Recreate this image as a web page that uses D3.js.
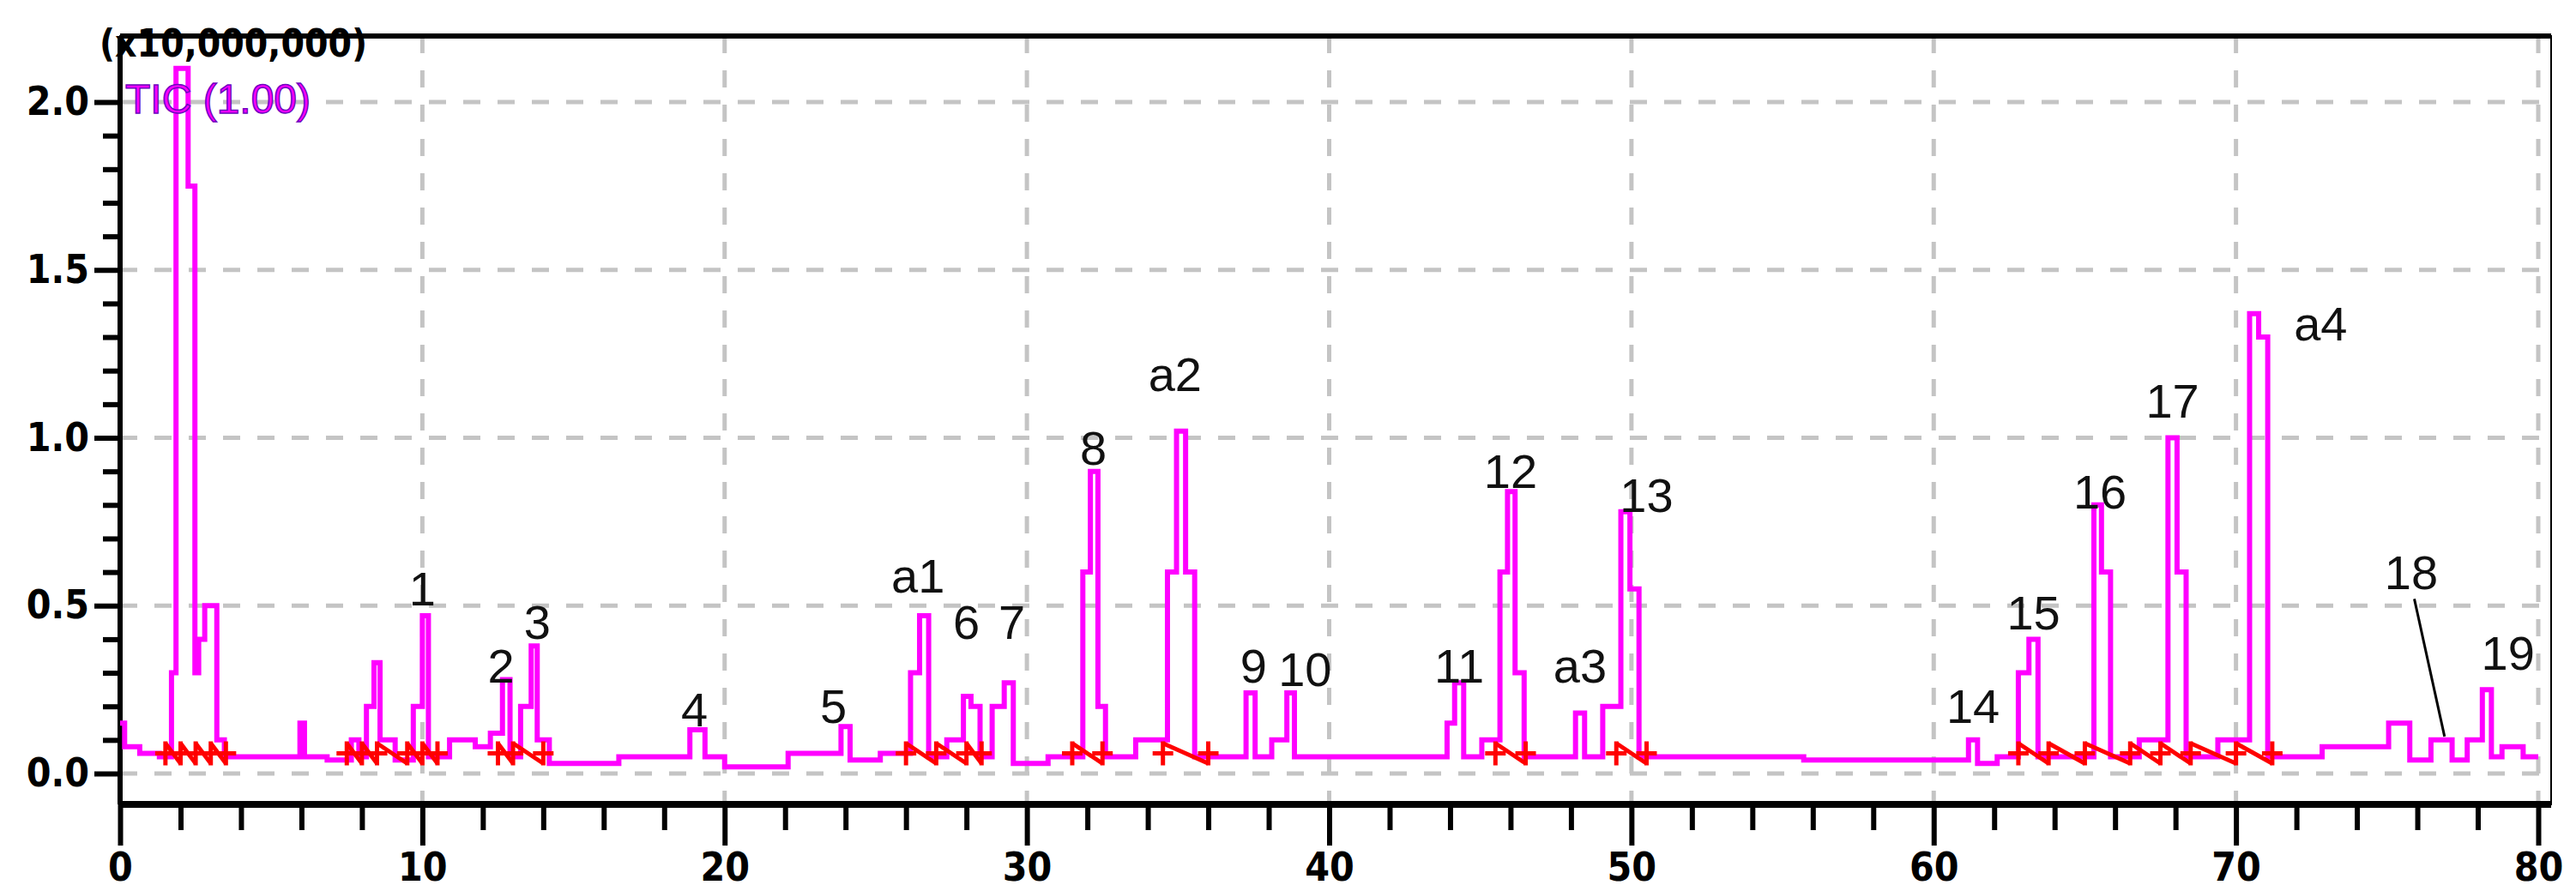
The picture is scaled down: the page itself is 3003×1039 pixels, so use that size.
<!DOCTYPE html>
<html><head><meta charset="utf-8">
<script src="https://cdn.jsdelivr.net/npm/d3@7"></script>
<style>body{margin:0;background:#fff}</style></head>
<body><svg id="chart" width="3003" height="1039"></svg>
<script>
// retention time (min) and intensity (x10,000,000)
const traceT = [0,0.3,1,1.6,1.8,1.9,2.2,2.3,2.45,2.5,2.7,2.9,3.1,3.3,3.6,5,5.9,6,6.2,7.5,7.8,8.0,8.3,8.5,8.7,9.5,9.9,10.1,10.3,11.5,12.0,12.5,12.8,13.0,13.5,13.7,13.9,14.5,18.5,19.2,19.5,20.5,23.7,24.0,24.3,26.0,26.3,26.6,26.9,27.8,28.0,28.3,28.6,29.1,29.4,29.7,31.7,32.0,32.2,32.5,32.7,34.5,34.8,35.1,35.4,35.7,37.1,37.4,37.7,38.5,38.7,39.0,43.8,44.0,44.3,44.6,45.5,45.8,46.0,46.3,46.6,48.0,48.3,48.6,49.5,49.8,50.1,50.4,61.0,61.3,61.6,62.6,63.0,63.3,63.6,65.2,65.4,65.7,66.0,67.6,67.9,68.2,68.5,70.3,70.6,70.9,71.2,74.5,75.6,75.9,77,77.3,78.0,78.3,78.6,79,80];
const traceY = [0.15,0.08,0.06,0.05,0.3,2.1,2.1,1.75,1.75,0.3,0.4,0.5,0.5,0.1,0.05,0.05,0.05,0.15,0.05,0.04,0.1,0.05,0.2,0.33,0.1,0.04,0.2,0.47,0.05,0.1,0.08,0.12,0.28,0.05,0.2,0.38,0.1,0.03,0.05,0.13,0.05,0.02,0.06,0.14,0.04,0.06,0.3,0.47,0.05,0.1,0.23,0.2,0.05,0.2,0.27,0.03,0.05,0.6,0.9,0.2,0.05,0.1,0.6,1.02,0.6,0.05,0.05,0.24,0.05,0.1,0.24,0.05,0.05,0.15,0.27,0.05,0.1,0.6,0.84,0.3,0.05,0.05,0.18,0.05,0.2,0.78,0.55,0.05,0.04,0.1,0.03,0.05,0.3,0.4,0.05,0.05,0.8,0.6,0.05,0.1,1.0,0.6,0.05,0.1,1.37,1.3,0.05,0.08,0.15,0.04,0.1,0.04,0.1,0.25,0.05,0.08,0.05];

const peakNames = ["1","2","3","4","5","a1","6","7","8","a2","9","10","11","12","a3","13","14","15","16","17","a4","18","19"];
const peakLabelT = [10.0,12.6,13.8,19.0,23.6,26.4,28.0,29.5,32.2,34.9,37.5,39.2,44.3,46.0,48.3,50.5,61.3,63.3,65.5,67.9,72.8,75.8,79.0];
const peakLabelY = [0.50,0.27,0.40,0.14,0.15,0.54,0.40,0.40,0.92,1.14,0.27,0.26,0.27,0.85,0.27,0.78,0.15,0.43,0.79,1.06,1.29,0.55,0.31];

const markT = [1.5,2.0,2.5,3.0,3.5,7.5,8.0,8.5,9.5,10.0,10.5,12.5,13.0,14.0,26.0,27.0,28.0,28.5,31.5,32.5,34.5,36.0,45.5,46.5,49.5,50.5,62.8,63.8,65.0,66.5,67.5,68.5,70.0,71.2];

const xTicks = [0,10,20,30,40,50,60,70,80];
const yTicks = [0.0,0.5,1.0,1.5,2.0];

const svg = d3.select('#chart');
const L = 140, R = 2974, T = 42, B = 938;
const x = d3.scaleLinear().domain([0,80]).range([L,2959]);
const y = d3.scaleLinear().domain([0,2]).range([902,119]);

// grid
svg.append('g').selectAll('line.v').data(xTicks.slice(1)).join('line')
  .attr('x1', d => x(d)).attr('x2', d => x(d)).attr('y1', T).attr('y2', B)
  .attr('stroke', '#c4c4c4').attr('stroke-width', 5).attr('stroke-dasharray', '20,20');
svg.append('g').selectAll('line.h').data(yTicks).join('line')
  .attr('x1', L).attr('x2', R).attr('y1', d => y(d)).attr('y2', d => y(d))
  .attr('stroke', '#c4c4c4').attr('stroke-width', 5).attr('stroke-dasharray', '20,20');

// frame
svg.append('rect').attr('x', L).attr('y', T).attr('width', R - L).attr('height', B - T)
  .attr('fill', 'none').attr('stroke', '#000').attr('stroke-width', 2);
svg.append('line').attr('x1', L).attr('x2', R).attr('y1', T).attr('y2', T).attr('stroke', '#000').attr('stroke-width', 6);
svg.append('line').attr('x1', L).attr('x2', R).attr('y1', B).attr('y2', B).attr('stroke', '#000').attr('stroke-width', 8);
svg.append('line').attr('x1', L).attr('x2', L).attr('y1', T).attr('y2', B).attr('stroke', '#000').attr('stroke-width', 6);

// trace
const pts = traceT.map((t, i) => [t, traceY[i]]);
svg.append('path').datum(pts)
  .attr('d', d3.line().x(d => x(d[0])).y(d => y(Math.min(d[1], 2.12))).curve(d3.curveStep))
  .attr('fill', 'none').attr('stroke', '#ff00ff').attr('stroke-width', 6);

// integration marks
const mk = svg.append('g').attr('stroke', '#ff0000').attr('stroke-width', 5);
markT.forEach(t => {
  const cx = x(t), cy = y(0.06);
  mk.append('line').attr('x1', cx - 12).attr('x2', cx + 12).attr('y1', cy).attr('y2', cy);
  mk.append('line').attr('x1', cx).attr('x2', cx).attr('y1', cy - 14).attr('y2', cy + 14);
});
for (let i = 0; i + 1 < markT.length; i++) {
  if (markT[i + 1] - markT[i] > 1.6) continue;
  mk.append('line').attr('x1', x(markT[i])).attr('x2', x(markT[i + 1]))
    .attr('y1', y(0.09)).attr('y2', y(0.03));
}

// axes
const xAxis = d3.axisBottom(x).tickValues(d3.range(0, 81, 2)).tickSize(24)
  .tickFormat(d => xTicks.includes(d) ? d : '');
const gx = svg.append('g').attr('transform', `translate(0,${B})`).call(xAxis);
gx.select('.domain').remove();
gx.selectAll('.tick line').attr('stroke-width', 6).attr('y2', d => d % 10 === 0 ? 48 : 30);
gx.selectAll('.tick text').attr('y', 56).attr('font-size', 46).attr('font-weight', 'bold')
  .attr('font-family', 'DejaVu Sans Condensed, DejaVu Sans').attr('fill', '#000');

const yAxis = d3.axisLeft(y).tickValues(d3.range(0, 21).map(d => d / 10)).tickSize(20)
  .tickFormat(d => yTicks.some(v => Math.abs(v - d) < 1e-9) ? d.toFixed(1) : '');
const gy = svg.append('g').attr('transform', `translate(${L},0)`).call(yAxis);
gy.select('.domain').remove();
gy.selectAll('.tick line').attr('stroke-width', 6).attr('x2', d => Math.round(d * 10) % 5 === 0 ? -30 : -20);
gy.selectAll('.tick text').attr('x', -36).attr('font-size', 46).attr('font-weight', 'bold')
  .attr('font-family', 'DejaVu Sans Condensed, DejaVu Sans').attr('fill', '#000');

svg.append('text').attr('x', 116).attr('y', 66).text('(x10,000,000)')
  .attr('font-size', 44).attr('font-weight', 'bold').attr('font-family', 'DejaVu Sans Condensed, DejaVu Sans');
svg.append('text').attr('x', 146).attr('y', 132).text('TIC (1.00)')
  .attr('font-size', 48).attr('fill', '#ff00ff').attr('stroke', '#7000c0').attr('stroke-width', 1.5)
  .attr('font-family', 'Liberation Sans');

// peak labels
svg.append('g').selectAll('text').data(peakNames).join('text')
  .attr('x', (d, i) => x(peakLabelT[i])).attr('y', (d, i) => y(peakLabelY[i]))
  .attr('text-anchor', 'middle').attr('font-size', 56).attr('font-family', 'Liberation Sans')
  .attr('fill', '#111').text(d => d);
svg.append('line').attr('x1', x(75.9)).attr('y1', y(0.52)).attr('x2', x(76.9)).attr('y2', y(0.11))
  .attr('stroke', '#000').attr('stroke-width', 3);
</script></body></html>
